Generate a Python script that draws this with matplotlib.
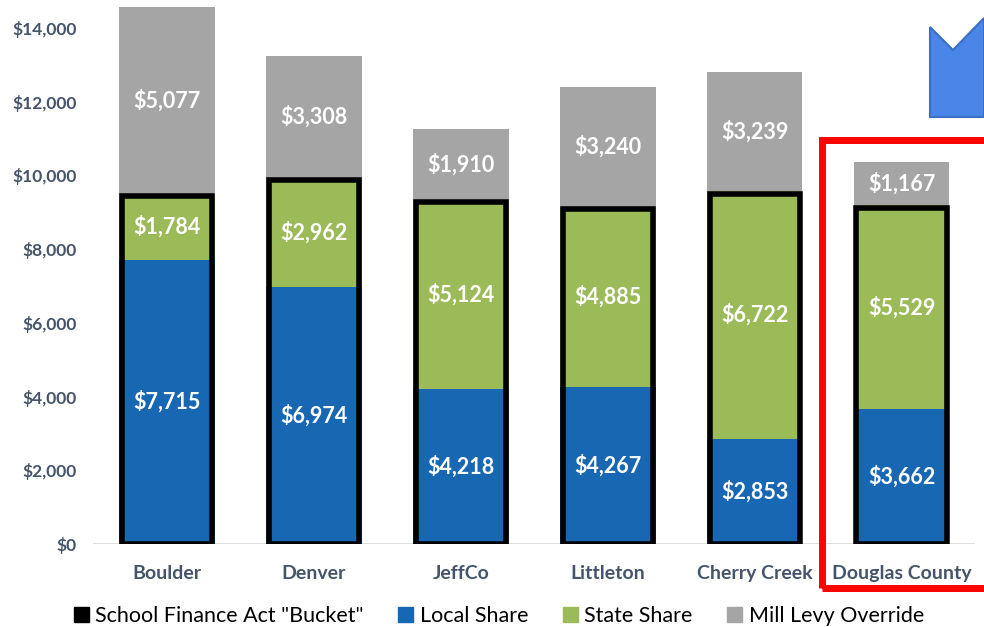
import matplotlib
matplotlib.use('Agg')
import matplotlib.pyplot as plt
from matplotlib.patches import Rectangle, Polygon, Patch

# --- data ---
districts = ['Boulder', 'Denver', 'JeffCo', 'Littleton', 'Cherry Creek', 'Douglas County']
local_share = [7715, 6974, 4218, 4267, 2853, 3662]
state_share = [1784, 2962, 5124, 4885, 6722, 5529]
mill_levy = [5077, 3308, 1910, 3240, 3239, 1167]
yticks = [0, 2000, 4000, 6000, 8000, 10000, 12000, 14000]

BLUE = '#1767B3'
GREEN = '#9BBB59'
GRAY = '#A5A5A5'
TICK_COLOR = '#44546A'

plt.rcParams['font.family'] = ['Lato', 'DejaVu Sans']

fig = plt.figure(figsize=(9.84, 6.27), dpi=100)
ax = fig.add_axes([0.095, 0.1324, 0.896, 0.8676])

x = list(range(len(districts)))
width = 0.65
bucket = [l + s for l, s in zip(local_share, state_share)]

ax.bar(x, local_share, width, color=BLUE, zorder=2)
ax.bar(x, state_share, width, bottom=local_share, color=GREEN, zorder=2)
ax.bar(x, mill_levy, width, bottom=bucket, color=GRAY, zorder=2)

# black outline around the "bucket" (local + state), drawn just inside the bar
ax.bar(x, [b - 70 for b in bucket], width - 0.035, fill=False, edgecolor='black',
       linewidth=4, zorder=3)

# value labels
for i in x:
    segs = [(0, local_share[i]), (local_share[i], state_share[i]), (bucket[i], mill_levy[i])]
    for bottom, h in segs:
        ax.text(i, bottom + h / 2, f'${h:,}', ha='center', va='center',
                color='white', fontsize=15.5, fontweight='bold', zorder=4)

ax.set_xlim(-0.5, 5.5)
ax.set_ylim(0, 14760)
ax.set_yticks(yticks)
ax.set_yticklabels([f'${v:,}' for v in yticks], fontsize=12.5,
                   fontweight='bold', color=TICK_COLOR)
ax.set_xticks(x)
ax.set_xticklabels(districts, fontsize=14, fontweight='bold', color=TICK_COLOR)
ax.tick_params(axis='x', length=0, pad=15)
ax.tick_params(axis='y', length=0, pad=12)
for sp in ax.spines.values():
    sp.set_visible(False)
ax.axhline(0, color='#D9D9D9', linewidth=1.2, zorder=1)

# red highlight box around Douglas County
ax.add_patch(Rectangle((4.46, -1190), 1.2, 12150, fill=False, edgecolor='#FF0000',
                       linewidth=5, clip_on=False, zorder=5))

# blue arrow shape (top right corner)
W, H = 984, 627
pts = [(930, 27), (953, 50), (984, 18), (984, 117), (930, 117)]
fig.patches.append(Polygon([(px / W, 1 - py / H) for px, py in pts], closed=True,
                           transform=fig.transFigure, facecolor='#4A86E8',
                           edgecolor='#3A6FC4', linewidth=1.5))

handles = [Patch(color='black'), Patch(color=BLUE), Patch(color=GREEN), Patch(color=GRAY)]
labels = ['School Finance Act "Bucket"', 'Local Share', 'State Share', 'Mill Levy Override']
fig.legend(handles, labels, loc='center', bbox_to_anchor=(0.507, 0.018), ncol=4,
           frameon=False, fontsize=15.5, handlelength=0.7, handleheight=0.7,
           handletextpad=0.3, columnspacing=1.6)

fig.savefig('out.png', dpi=100)
